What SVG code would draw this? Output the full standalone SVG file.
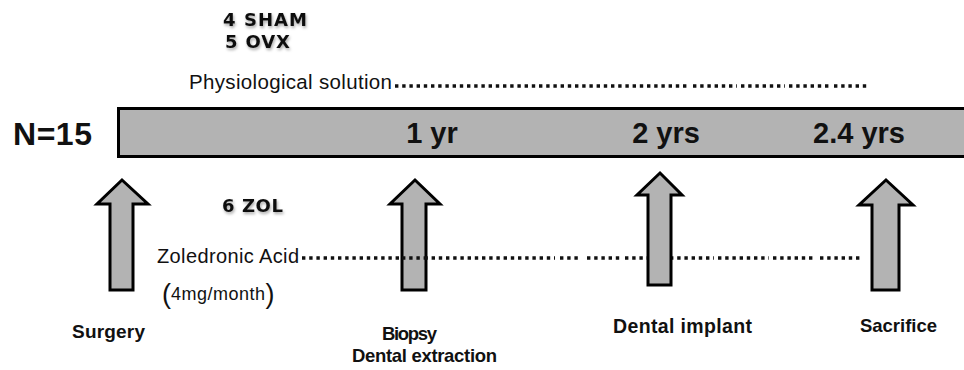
<svg xmlns="http://www.w3.org/2000/svg" width="964" height="370" viewBox="0 0 964 370">
<defs>
<style>
.t{font-family:"Liberation Sans",Arial,sans-serif;fill:#111}
.d{font-family:"DejaVu Sans",sans-serif;font-weight:bold;fill:#111;font-size:18px}
.b{font-weight:bold}
.dot{stroke:#111;stroke-width:3.4;stroke-dasharray:3.4 3.8;fill:none}
.arr{fill:#b3b3b3;stroke:#000;stroke-width:3;stroke-linejoin:miter}
</style>
<filter id="sh" x="-20%" y="-40%" width="140%" height="200%">
<feDropShadow dx="1" dy="2" stdDeviation="1.4" flood-color="#000" flood-opacity="0.35"/>
</filter>
</defs>
<rect width="964" height="370" fill="#fff"/>
<g id="timeline">
<rect x="118.5" y="108.5" width="850" height="48" fill="#b3b3b3" stroke="#000" stroke-width="3"/>
<text class="t b" x="432" y="143" font-size="29" text-anchor="middle">1 yr</text>
<text class="t b" x="666" y="143" font-size="29" text-anchor="middle">2 yrs</text>
<text class="t b" x="859" y="143" font-size="29" text-anchor="middle">2.4 yrs</text>
</g>
<g id="n-label"><text class="t b" x="13" y="145" font-size="32" textLength="79">N=15</text></g>
<g id="groups-top">
<text class="d" x="223" y="26" textLength="84" filter="url(#sh)">4 SHAM</text>
<text class="d" x="225" y="48" textLength="65" filter="url(#sh)">5 OVX</text>
<text class="t" x="189" y="89" font-size="20.5" textLength="203">Physiological solution</text>
</g>
<g id="connectors">
<line class="dot" x1="395" y1="86" x2="689" y2="86"/>
<line class="dot" x1="693" y1="86" x2="737" y2="86"/>
<line class="dot" x1="741" y1="86" x2="785" y2="86"/>
<line class="dot" x1="789" y1="86" x2="830" y2="86"/>
<line class="dot" x1="834" y1="86" x2="868" y2="86"/>
<line class="dot" x1="302" y1="258" x2="555" y2="258"/>
<line class="dot" x1="560" y1="258" x2="581" y2="258"/>
<line class="dot" x1="587" y1="258" x2="621" y2="258"/>
<line class="dot" x1="625" y1="258" x2="650" y2="258"/>
<line class="dot" x1="670" y1="258" x2="714" y2="258"/>
<line class="dot" x1="718" y1="258" x2="769" y2="258"/>
<line class="dot" x1="773" y1="258" x2="816" y2="258"/>
<line class="dot" x1="820" y1="258" x2="863" y2="258"/>
</g>
<g id="groups-bottom">
<text class="d" x="222" y="212" font-size="18.5" textLength="61" filter="url(#sh)">6 ZOL</text>
<text class="t" x="157" y="263" font-size="20" textLength="142">Zoledronic Acid</text>
<text class="t" x="162" y="300" font-size="18"><tspan font-size="27" dy="3">(</tspan><tspan dy="-3" textLength="94">4mg/month</tspan><tspan font-size="27" dy="3">)</tspan></text>
</g>
<g id="surgery">
<polygon class="arr" points="122,180 148,204 133,204 133,290 110,290 110,204 97,204"/>
<text class="t b" x="72" y="338" font-size="19" textLength="73">Surgery</text>
</g>
<g id="biopsy">
<polygon class="arr" points="415,180 440,204 426,204 426,290 402,290 402,204 390,204"/>
<text class="t b" x="382" y="340" font-size="18.5" textLength="55">Biopsy</text>
<text class="t b" x="352" y="362" font-size="18.5" textLength="145">Dental extraction</text>
</g>
<line class="dot" x1="402" y1="258" x2="427" y2="258"/>
<g id="implant">
<polygon class="arr" points="660,173 682,195 671,195 671,285 648,285 648,195 637,195"/>
<text class="t b" x="613" y="333" font-size="19.5" textLength="139">Dental implant</text>
</g>
<g id="sacrifice">
<polygon class="arr" points="886,180 913,205 899,205 899,290 872,290 872,205 859,205"/>
<text class="t b" x="860" y="332" font-size="18.5" textLength="77">Sacrifice</text>
</g>
</svg>
